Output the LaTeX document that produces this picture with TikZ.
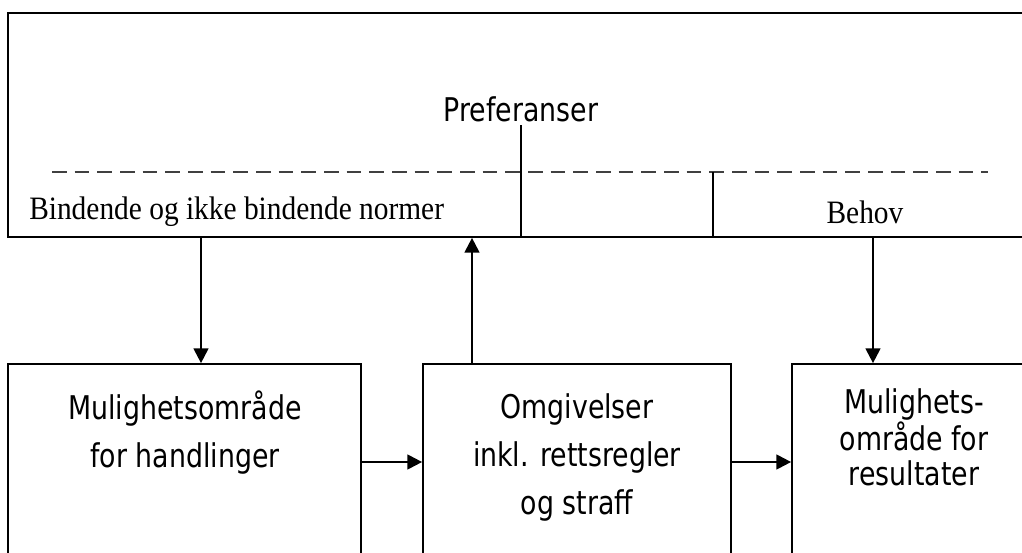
\documentclass[tikz,border=0pt]{standalone}
\usepackage{fontspec}
\setmainfont{Liberation Serif}[FakeStretch=0.9]
\newfontfamily\verd{DejaVu Sans}[FakeStretch=0.82]
\usetikzlibrary{arrows.meta}
\tikzset{
  box/.style={draw, line width=1.3pt, rectangle, inner sep=0pt},
  arr/.style={line width=1.6pt, -{Triangle[length=11pt,width=11pt]}},
  plain/.style={line width=1.1pt},
  dashline/.style={line width=1.3pt, draw=black!75, dash pattern=on 11pt off 6pt},
  sanslbl/.style={font=\verd\fontsize{24.5}{36}\selectfont, align=center, inner sep=0pt},
  seriflbl/.style={font=\fontsize{24.5}{26}\selectfont, inner sep=0pt},
}
\begin{document}
\begin{tikzpicture}[x=0.75pt,y=-0.75pt]
\clip (0,0) rectangle (1022,553);
\useasboundingbox (0,0) rectangle (1022,553);
% boxes
\node[box, minimum width=774pt, minimum height=168pt] (top) at (524,125) {};
\node[box, minimum width=264.75pt, minimum height=162pt] (left) at (184.5,472) {};
\node[box, minimum width=231pt, minimum height=162pt] (mid) at (577,472) {};
\node[box, minimum width=186pt, minimum height=162pt] (right) at (916,472) {};
% top box content
\node[sanslbl] (pref) at (521,109) {Preferanser};
\coordinate (d1) at (52,172);
\coordinate (d2) at (988,172);
\draw[dashline] (d1) -- (d2);
\coordinate (pv) at (521,125);
\draw[plain] (pv) -- (pv |- top.south);
\coordinate (bv) at (713,172);
\draw[plain] (bv) -- (bv |- top.south);
\node[seriflbl, anchor=west] (norm) at (29,212) {Bindende og ikke bindende normer};
\node[seriflbl] (behov) at (865,212) {Behov};
% bottom box texts
\node[sanslbl] (t1) at (185,433) {Mulighetsområde\\for handlinger};
\node[sanslbl] (t2) at (577,457) {Omgivelser\\inkl. rettsregler\\og straff};
\node[sanslbl, font=\verd\fontsize{24.5}{26.25}\selectfont] (t3) at (914,437) {Mulighets-\\område for\\resultater};
% connectors
\coordinate (ax1) at (201,0);
\coordinate (ax2) at (472,0);
\coordinate (ax3) at (873,0);
\coordinate (row) at (0,462);
\draw[arr] (ax1 |- top.south) -- (ax1 |- left.north);
\draw[arr] (ax2 |- mid.north) -- (ax2 |- top.south);
\draw[arr] (ax3 |- top.south) -- (ax3 |- right.north);
\draw[arr] (left.east |- row) -- (mid.west |- row);
\draw[arr] (mid.east |- row) -- (right.west |- row);
\end{tikzpicture}
\end{document}
